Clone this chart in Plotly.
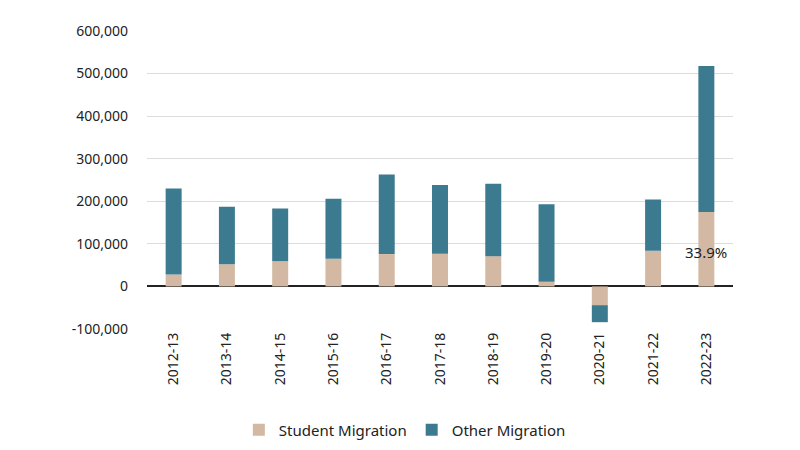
import plotly.graph_objects as go

years = ["2012-13", "2013-14", "2014-15", "2015-16", "2016-17", "2017-18",
         "2018-19", "2019-20", "2020-21", "2021-22", "2022-23"]
student = [28000, 52000, 59000, 65000, 76000, 77000, 71000, 11000, -44000, 84000, 175000]
other = [202000, 135000, 124000, 141000, 187000, 161000, 170000, 182000, -40000, 120000, 343000]
share_label = "33.9%"
y_ticks = [-100000, 0, 100000, 200000, 300000, 400000, 500000, 600000]
y_tick_text = ["-100,000", "0", "100,000", "200,000", "300,000", "400,000", "500,000", "600,000"]

font_family = "Noto Sans, Open Sans, sans-serif"

fig = go.Figure()
fig.add_trace(go.Bar(x=years, y=student, name="Student Migration",
                     marker=dict(color="#d3b9a3", line=dict(width=0))))
fig.add_trace(go.Bar(x=years, y=other, name="Other Migration",
                     marker=dict(color="#3c7a90", line=dict(width=0))))

fig.add_annotation(x=years[-1], y=student[-1] - 93000, text=share_label,
                   showarrow=False, font=dict(size=15, color="#222222", family=font_family))

fig.update_layout(
    barmode="relative",
    bargap=0.7,
    width=792, height=442,
    margin=dict(l=139, r=67, t=23, b=121, autoexpand=False),
    paper_bgcolor="white", plot_bgcolor="white",
    font=dict(family=font_family, size=14, color="#222222"),
    showlegend=True,
    legend=dict(orientation="h", x=0.44, xanchor="center", y=-0.339, yanchor="middle",
                font=dict(size=15, color="#222222"), traceorder="normal",
                itemwidth=30),
    xaxis=dict(tickangle=-90, showgrid=False, showline=False, ticks="",
               tickfont=dict(size=14, color="#222222")),
    yaxis=dict(range=[-100000, 600000], tickvals=y_ticks, ticktext=y_tick_text,
               showgrid=True, gridcolor="#dcdcdc", gridwidth=1,
               zeroline=True, zerolinecolor="#222222", zerolinewidth=2,
               showline=False, ticks="", ticklabelstandoff=18,
               tickfont=dict(size=14, color="#222222")),
)

fig.write_html("out.html")
